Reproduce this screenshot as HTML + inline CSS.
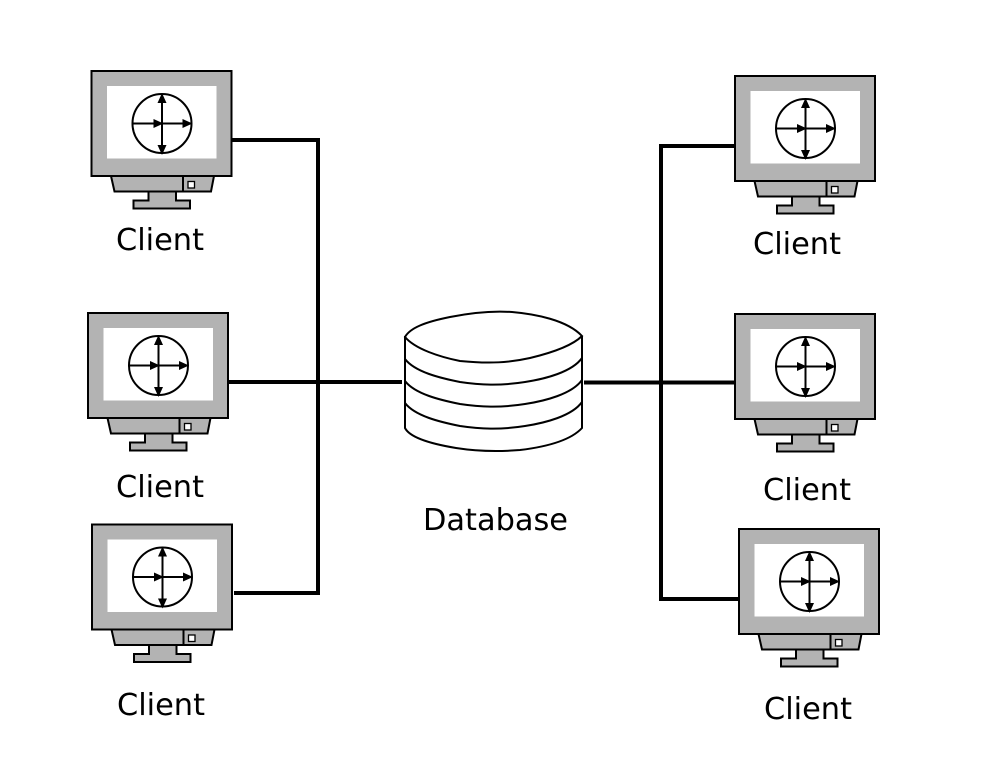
<!DOCTYPE html>
<html>
<head>
<meta charset="utf-8">
<style>
html,body{margin:0;padding:0;background:#fff}
svg{display:block}
text{font-family:"DejaVu Sans",sans-serif;font-size:30.4px;fill:#000}
</style>
</head>
<body>
<svg width="995" height="783" viewBox="0 0 995 783" xmlns="http://www.w3.org/2000/svg">
<defs>
<marker id="a" markerWidth="10" markerHeight="9" refX="9" refY="4.500" orient="auto" markerUnits="userSpaceOnUse"><path d="M0,0L10,4.500L0,9Z" fill="#000"/></marker>
<g id="m">
  <rect x="0" y="0" width="140" height="105" fill="#b3b3b3" stroke="#000" stroke-width="2"/>
  <rect x="15.500" y="15" width="109.500" height="72.500" fill="#fff"/>
  <circle cx="70.500" cy="52.500" r="29.500" fill="#fff" stroke="#000" stroke-width="2"/>
  <path d="M40,52.500H71" stroke="#000" stroke-width="2" fill="none" marker-end="url(#a)"/>
  <path d="M71,52.500H100" stroke="#000" stroke-width="2" fill="none" marker-end="url(#a)"/>
  <path d="M70.500,52.500V23" stroke="#000" stroke-width="2" fill="none" marker-end="url(#a)"/>
  <path d="M70.500,52.500V83" stroke="#000" stroke-width="2" fill="none" marker-end="url(#a)"/>
  <path d="M19.500,105L23,120.500H119.500L122.500,105Z" fill="#b3b3b3" stroke="#000" stroke-width="2"/>
  <path d="M91.500,105V120.500" stroke="#000" stroke-width="2"/>
  <rect x="96.500" y="110.500" width="6.500" height="6.500" fill="#fff" stroke="#000" stroke-width="1.300"/>
  <path d="M57,120.500V129.500H42V137.500H98.500V129.500H84.500V120.500Z" fill="#b3b3b3" stroke="#000" stroke-width="2"/>
</g>
</defs>

<g fill="none" stroke="#000" stroke-width="4">
  <path d="M232,140H318V593H234"/>
  <path d="M228,382H402"/>
  <path d="M735,146H661V599H739"/>
  <path d="M584,382.500H735"/>
</g>

<use href="#m" x="91.500" y="71"/>
<use href="#m" x="88" y="313"/>
<use href="#m" x="92" y="524.500"/>
<use href="#m" x="735" y="76"/>
<use href="#m" x="735" y="314"/>
<use href="#m" x="739" y="529"/>

<g fill="#fff" stroke="#000" stroke-width="2">
  <path d="M405,337V428C410,438 432,444 456,448C475,451 495,452 520,450C545,447 570,441 582,428V337Z"/>
  <path d="M405,337C410,328 425,322 450,317C470,313 490,310.500 512,312C535,314 567,320 582,336C573,345 555,352 530,358C510,362.500 490,364 460,361C440,357 415,349 405,337Z"/>
  <path fill="none" d="M405,359C415,372 440,378 460,382C480,385 500,386 525,382C545,379 572,372 582,358"/>
  <path fill="none" d="M405,381C415,394 440,400 460,404C480,407 500,408 525,404C545,401 572,394 582,380"/>
  <path fill="none" d="M405,403C415,416 440,422 460,426C480,429 500,430 525,426C545,423 572,416 582,402"/>
</g>

<text x="116" y="250">Client</text>
<text x="116" y="497">Client</text>
<text x="117" y="715">Client</text>
<text x="753" y="254">Client</text>
<text x="763" y="500">Client</text>
<text x="764" y="719">Client</text>
<text x="423" y="530">Database</text>
</svg>
</body>
</html>
